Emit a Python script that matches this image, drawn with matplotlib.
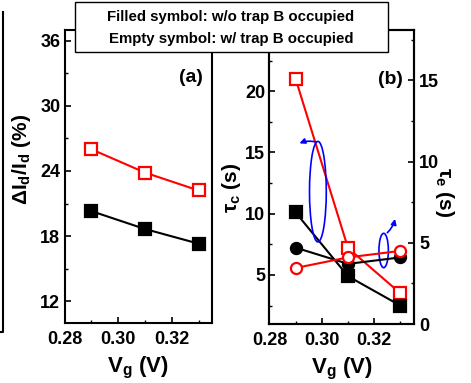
import matplotlib
matplotlib.use('Agg')
import matplotlib.pyplot as plt
from matplotlib.patches import Ellipse, Rectangle
from matplotlib.lines import Line2D

plt.rcParams.update({
    'font.family': 'Liberation Sans',
    'font.weight': 'bold',
    'axes.labelweight': 'bold',
    'font.size': 12,
    'mathtext.fontset': 'custom',
    'mathtext.rm': 'Liberation Sans:bold',
    'mathtext.it': 'Liberation Sans:bold',
    'mathtext.bf': 'Liberation Sans:bold',
    'mathtext.default': 'bf',
    'axes.linewidth': 1.5,
    'xtick.direction': 'in',
    'ytick.direction': 'in',
    'xtick.major.size': 4,
    'ytick.major.size': 4,
    'xtick.minor.size': 2.5,
    'ytick.minor.size': 2.5,
    'xtick.major.width': 1.2,
    'ytick.major.width': 1.2,
    'xtick.minor.width': 1.0,
    'ytick.minor.width': 1.0,
    'xtick.labelsize': 13,
    'ytick.labelsize': 13,
})

vg = [0.29, 0.31, 0.33]

# (a) relative drain-current change
dI_empty = [26.0, 23.85, 22.2]
dI_filled = [20.3, 18.65, 17.3]

# (b) capture time (left) and emission time (right)
tc_empty = [21.0, 7.2, 3.5]
tc_filled = [10.1, 4.9, 2.5]
te_empty = [3.45, 4.1, 4.5]
te_filled = [4.7, 3.7, 4.1]

RED = '#ff0000'
BLUE = '#0000ff'
mk = dict(markersize=8, markeredgewidth=1.6)

fig = plt.figure(figsize=(4.71, 3.83), dpi=100)
ax_a = fig.add_axes([0.137, 0.157, 0.313, 0.765])
ax_b = fig.add_axes([0.572, 0.154, 0.306, 0.768])
ax_e = ax_b.twinx()

# --- panel (a)
ax_a.plot(vg, dI_empty, color=RED, lw=1.5, marker='s', mfc='white', mec=RED, **mk)
ax_a.plot(vg, dI_filled, color='black', lw=1.5, marker='s', mfc='black', mec='black', **mk)
ax_a.set_xlim(0.28, 0.335)
ax_a.set_ylim(10, 37)
ax_a.set_yticks([12, 18, 24, 30, 36])
ax_a.set_yticks([15, 21, 27, 33], minor=True)
ax_a.set_ylabel(r'$\Delta$I$_d$/I$_d$ (%)', fontsize=15, rotation=90,
                rotation_mode='default', ha='right', va='center')
ax_a.yaxis.set_label_coords(-0.214, 0.556)
ax_a.text(0.939, 0.836, '(a)', transform=ax_a.transAxes, fontsize=14,
          ha='right', va='center')

# --- panel (b)
ax_b.plot(vg, tc_empty, color=RED, lw=1.5, marker='s', mfc='white', mec=RED, **mk)
ax_b.plot(vg, tc_filled, color='black', lw=1.5, marker='s', mfc='black', mec='black', **mk)
ax_e.plot(vg, te_filled, color='black', lw=1.5, marker='o', mfc='black', mec='black', **mk)
ax_e.plot(vg, te_empty, color=RED, lw=1.5, marker='o', mfc='white', mec=RED, **mk)
ax_b.set_xlim(0.28, 0.335)
ax_b.set_ylim(1, 25)
ax_b.set_yticks([5, 10, 15, 20])
ax_b.set_yticks([2.5, 7.5, 12.5, 17.5, 22.5], minor=True)
ax_e.set_ylim(0, 18.1)
ax_e.set_yticks([0, 5, 10, 15])
ax_e.set_yticks([2.5, 7.5, 12.5, 17.5], minor=True)
ax_b.set_ylabel(r'$\tau_c$ (s)', fontsize=15, rotation=90,
                rotation_mode='default', ha='right', va='center')
ax_b.yaxis.set_label_coords(-0.184, 0.463)
ax_e.set_ylabel(r'$\tau_e$ (s)', fontsize=15, rotation=270,
                rotation_mode='default', ha='left', va='center')
ax_e.yaxis.set_label_coords(1.135, 0.449)
ax_b.text(0.929, 0.83, '(b)', transform=ax_b.transAxes, fontsize=14,
          ha='right', va='center')

# ellipses + arrows pointing to the axis each pair belongs to
ax_b.add_patch(Ellipse((0.2985, 11.8), 0.0064, 8.2, fill=False, ec=BLUE, lw=1.2, zorder=5))
ax_b.annotate('', xy=(0.2905, 15.65), xytext=(0.2988, 15.8),
              arrowprops=dict(arrowstyle='-|>', color=BLUE, lw=1.2,
                              mutation_scale=8, connectionstyle='arc3,rad=0.2'))
ax_b.add_patch(Ellipse((0.3236, 7.0), 0.0036, 2.8, fill=False, ec=BLUE, lw=1.2, zorder=5))
ax_b.annotate('', xy=(0.3281, 9.8), xytext=(0.3242, 8.3),
              arrowprops=dict(arrowstyle='-|>', color=BLUE, lw=1.2,
                              mutation_scale=8, connectionstyle='arc3,rad=0.2'))

for ax in (ax_a, ax_b):
    ax.set_xticks([0.28, 0.30, 0.32])
    ax.set_xticks([0.29, 0.31, 0.33], minor=True)
    ax.set_xticklabels(['0.28', '0.30', '0.32'])
    ax.tick_params(axis='x', which='major', pad=6)
    ax.tick_params(axis='y', which='major', pad=3)
    ax.set_xlabel(r'V$_g$ (V)', fontsize=16)
    ax.xaxis.set_label_coords(0.5, -0.11)
ax_e.tick_params(axis='y', which='major', pad=4)

# shared legend box across the top of both panels
fig.patches.append(Rectangle((74.7 / 471, 1 - 51.7 / 383), (387.7 - 74.7) / 471,
                             (51.7 - 2) / 383, transform=fig.transFigure,
                             fill=True, fc='white', ec='black', lw=1.0, zorder=10))
fig.text(231 / 471, 1 - 17 / 383, 'Filled symbol: w/o trap B occupied',
         fontsize=10.8, ha='center', va='center', zorder=11)
fig.text(231 / 471, 1 - 39 / 383, 'Empty symbol: w/ trap B occupied',
         fontsize=10.8, ha='center', va='center', zorder=11)

# frame edge of the neighbouring figure on the far left
fig.lines.append(Line2D([2.5 / 471, 2.5 / 471, 0], [1 - 12 / 383, 1 - 332 / 383, 1 - 332 / 383],
                        transform=fig.transFigure, color='black', lw=1.5))

fig.savefig('out.png', dpi=100)
plt.close()
